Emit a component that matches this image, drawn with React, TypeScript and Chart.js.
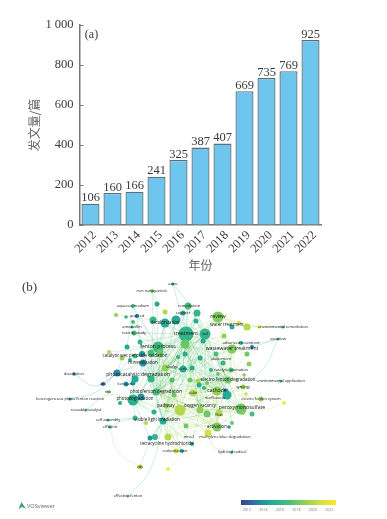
import React, { useEffect, useRef } from "react";
import { Chart, registerables } from "chart.js";

Chart.register(...registerables);

const SERIF = '"Liberation Serif", serif';
const SANS = '"Open Sans", sans-serif';
const CJK = '"Noto Sans CJK SC", sans-serif';

// Panel (a)
const years = ["2012", "2013", "2014", "2015", "2016", "2017", "2018", "2019", "2020", "2021", "2022"];
const papers = [106, 160, 166, 241, 325, 387, 407, 669, 735, 769, 925];

// Panel (b): nodes of the keyword network
const nodeX = [
  173, 152, 133, 157, 188, 165, 116, 126, 137, 183,
  197, 153, 176, 165, 132, 133, 134, 186, 140, 127,
  185, 158, 151, 109, 135, 122, 142, 160, 185, 143,
  130, 117, 135, 151, 165, 183, 74, 103, 126, 108,
  133, 156, 120, 133, 141, 70, 86, 108, 110, 135,
  154, 163, 146, 155, 150, 168, 192, 176, 182, 168,
  140, 128, 180, 166, 186, 193, 218, 232, 239, 247,
  259, 283, 278, 205, 196, 224, 203, 241, 252, 247,
  232, 216, 200, 223, 249, 231, 211, 192, 244, 228,
  198, 199, 218, 207, 281, 243, 217, 226, 227, 246,
  204, 261, 284, 241, 252, 243, 207, 219, 200, 232,
  217, 229, 208, 232, 174, 172, 190, 178,
];
const nodeY = [
  284, 291, 306, 304, 306, 312, 315, 317, 316, 313,
  313, 320, 320, 323, 327, 322, 333, 334, 342, 347,
  344, 347, 353, 352, 356, 358, 354, 353, 354, 363,
  360, 373, 379, 379, 368, 369, 374, 384, 384, 392,
  383, 392, 403, 400, 397, 399, 410, 420, 427, 418,
  412, 421, 423, 437, 438, 437, 444, 451, 451, 469,
  467, 496, 410, 406, 426, 393, 317, 327, 323, 327,
  327, 327, 339, 334, 321, 336, 341, 343, 347, 354,
  349, 354, 358, 363, 364, 370, 370, 368, 375, 380,
  381, 385, 374, 383, 381, 387, 391, 391, 395, 394,
  388, 399, 403, 409, 414, 413, 414, 413, 410, 423,
  427, 427, 433, 452, 395, 380, 380, 357,
];
const nodeSize = [
  1.6, 2, 2, 2.5, 3.5, 2.5, 2, 1.8, 2, 2.5,
  3.5, 3.5, 4.5, 4.5, 1.6, 2, 2.5, 7.5, 2.5, 2.5,
  4.5, 5.5, 3.5, 2, 2.5, 2.5, 3, 3.5, 2.5, 3.5,
  2, 3.5, 3.5, 3.5, 3.5, 3.5, 1.8, 2, 2.5, 1.6,
  2.5, 3.5, 2, 5.5, 3.5, 1.6, 1.6, 1.6, 1.8, 2.5,
  2.5, 3.5, 2, 3, 2.5, 3.5, 2, 2.5, 2, 1.8,
  2.5, 1.6, 5.5, 2.5, 2.5, 3.5, 5.5, 2.5, 2, 3.5,
  1.8, 1.6, 1.6, 5.5, 2.5, 2.5, 2.5, 2, 2, 2.5,
  4.5, 2.5, 2.5, 2.5, 2.5, 2.5, 2, 2.5, 1.8, 3.5,
  2.5, 2.5, 2, 2, 1.6, 2.5, 4.5, 2.5, 4.5, 1.8,
  2, 2.5, 1.8, 5.5, 2.5, 2, 3.5, 3.5, 3.5, 2,
  4.5, 1.8, 3.5, 1.6, 2.5, 2.5, 2.5, 2,
];
const nodeYear = [
  2015, 2018, 2016, 2015, 2017, 2020, 2019, 2016, 2013, 2015,
  2016, 2016, 2015, 2015, 2016, 2017, 2017, 2016, 2016, 2015,
  2018, 2016.5, 2017, 2020, 2017, 2019, 2014, 2018, 2015, 2014,
  2015, 2013.8, 2015, 2016, 2019, 2015, 2013, 2013, 2014, 2019,
  2015, 2017, 2015, 2015.5, 2014, 2014, 2017, 2016, 2017, 2016,
  2015.5, 2015, 2020, 2016, 2014, 2020, 2015, 2021, 2015, 2022,
  2020, 2018, 2020, 2019, 2018, 2020, 2018.5, 2015, 2021, 2020,
  2022, 2016, 2016, 2016, 2015, 2019, 2015, 2015, 2013, 2018,
  2018.5, 2017, 2015, 2016, 2019, 2017, 2016, 2015, 2019, 2018,
  2020, 2015, 2018, 2018, 2016, 2019, 2019, 2014, 2015, 2021,
  2016, 2019, 2022, 2018, 2017, 2019, 2018, 2020, 2019, 2018,
  2018.5, 2014, 2021, 2017, 2018, 2017, 2018, 2016,
];

// Links of the network, hub by hub (indices into the node lists)
const linkHubs = [17, 21, 73, 80, 96, 103, 110, 62, 43, 51, 31, 66, 33, 41, 89, 108, 20, 34, 63, 98];
const linkTargets = [
  [4, 5, 9, 10, 11, 12, 13, 16, 18, 20, 21, 22, 27, 28, 29, 32, 33, 34, 35, 41, 43, 50, 51, 62, 63, 65, 66, 73, 80, 82, 87, 96, 103, 106, 110, 115, 116],
  [2, 3, 8, 11, 13, 15, 16, 18, 19, 22, 24, 26, 27, 29, 33, 34, 41, 43, 44, 51, 62, 63, 73, 80, 96, 103, 110, 114],
  [4, 10, 12, 20, 28, 33, 34, 35, 41, 51, 62, 66, 74, 76, 80, 82, 87, 89, 96, 100, 103, 106, 110],
  [66, 69, 75, 77, 79, 81, 83, 85, 89, 96, 103, 110, 62, 65],
  [34, 41, 51, 62, 65, 85, 89, 95, 90, 100, 101, 103, 108, 110, 112, 114],
  [41, 51, 55, 62, 63, 65, 89, 95, 99, 101, 104, 105, 107, 108, 110, 112, 116],
  [41, 43, 51, 55, 57, 62, 63, 64, 65, 106, 107, 108, 112, 59],
  [33, 41, 43, 50, 51, 55, 57, 63, 64, 65, 114, 115, 116],
  [29, 32, 33, 40, 41, 44, 49, 50, 51, 55, 54],
  [29, 33, 41, 50, 53, 54, 55, 56, 58, 63],
  [25, 30, 32, 37, 38, 29, 40],
  [67, 68, 69, 70, 75],
  [11, 12, 13, 18, 19, 20, 22, 27, 28, 35, 66, 73, 80, 96, 110, 55],
  [4, 10, 12, 13, 18, 20, 22, 27, 28, 35, 66, 74, 75, 80, 81, 82, 85, 87, 89, 100, 106, 108, 110, 112],
  [10, 20, 28, 35, 65, 66, 74, 76, 79, 82, 84, 87, 91, 92, 93, 100, 108, 115, 116],
  [17, 20, 28, 35, 41, 51, 55, 63, 64, 76, 82, 87, 90, 93, 100, 105, 109, 112, 57, 56],
  [4, 10, 13, 27, 34, 35, 66, 74, 75, 76, 81, 83, 86, 87],
  [12, 13, 27, 28, 33, 35, 44, 62, 63, 66, 82, 87, 115, 117, 116],
  [33, 35, 55, 56, 58, 64, 65, 87, 90, 112, 114, 115, 57],
  [20, 28, 76, 81, 82, 83, 85, 86, 87, 90, 92, 93, 95, 100, 103, 106, 109],
];
const extraFrom = [1, 1, 0, 0, 2, 2, 69, 72, 72, 94, 47, 71, 68, 8, 6, 23];
const extraTo = [11, 3, 10, 17, 8, 19, 71, 78, 80, 89, 49, 70, 70, 29, 11, 21];

// Long curved links: start node, end node, and a point the curve passes through
const curveFrom = [36, 45, 60, 61, 113, 102, 46, 60, 48, 72];
const curveTo = [31, 31, 48, 51, 110, 103, 43, 51, 49, 98];
const curveViaX = [96, 96, 118, 150, 212, 264, 108, 150, 120, 262];
const curveViaY = [386, 392, 452, 470, 445, 410, 395, 442, 422, 370];

// Keyword labels
const smallLabels = [
  "azine", "iron nanoparticle", "aqueous medium", "remediation", "acid red", "support", "amoxicillin",
  "toxicity study", "dissolution", "atb", "kerosene", "rhb", "heterogeneous photo fenton reaction",
  "reusable catalyst", "self assembly", "efficient", "mno2", "environmental remediation", "overview",
  "advanced treatment", "abatement", "catalytic ozonation", "environmental application", "synergy",
  "norfloxacin", "electro fenton system", "flow", "hydroxyl radical", "effective fenton", "cds",
  "carbonization", "soil", "sludge", "ceria", "solar", "methylene blue degradation",
];
const smallLabelX = [
  173, 152, 133, 189, 137, 183, 132, 134, 74, 103, 126, 108, 70, 86, 108, 110, 189, 283, 278,
  241, 221, 231, 281, 243, 215, 261, 219, 232, 128, 140, 175, 205, 172, 183, 193, 225,
];
const smallLabelY = [
  284, 291, 306, 306, 316, 313, 327, 333, 374, 384, 384, 392, 399, 410, 420, 427, 437, 327, 339,
  343, 359, 370, 381, 387, 398, 399, 415, 452, 496, 467, 451, 334, 367, 369, 393, 437,
];
const mediumLabels = [
  "catalytic wet peroxide oxidation", "mineralization", "decolorization", "water treatment",
  "electro fenton degradation", "tetracycline hydrochloride", "visible light irradiation",
  "photodegradation", "pathway", "oxygen vacancy", "activation", "photofenton degradation",
];
const mediumLabelX = [135, 143, 165, 227, 228, 167, 157, 135, 166, 200, 217, 156];
const mediumLabelY = [356, 363, 323, 325, 380, 444, 420, 399, 406, 406, 427, 392];
const largeLabels = [
  "treatment", "fenton process", "photocatalytic degradation", "review", "wastewater treatment",
  "cathode", "peroxymonosulfate",
];
const largeLabelX = [186, 158, 138, 218, 232, 217, 242];
const largeLabelY = [334, 347, 375, 317, 349, 391, 408];

// Colour legend
const legendYears = [2012, 2014, 2016, 2018, 2020, 2022];
const legendStops = [
  [2011.3, 59, 63, 140],
  [2013, 44, 120, 170],
  [2015, 36, 170, 150],
  [2017, 70, 190, 120],
  [2019, 145, 208, 85],
  [2021, 210, 225, 70],
  [2022.8, 253, 231, 37],
];

function yearRgb(year: number): number[] {
  for (let i = 1; i < legendStops.length; i++) {
    const a = legendStops[i - 1];
    const b = legendStops[i];
    if (year <= b[0]) {
      const t = Math.max(0, (year - a[0]) / (b[0] - a[0]));
      return [1, 2, 3].map((k) => Math.round(a[k] + (b[k] - a[k]) * t));
    }
  }
  return legendStops[legendStops.length - 1].slice(1);
}
const yearColor = (year: number, alpha = 1) => `rgba(${yearRgb(year).join(",")},${alpha})`;

const valueLabels = {
  id: "valueLabels",
  afterDatasetsDraw(chart: any) {
    const { ctx } = chart;
    const meta = chart.getDatasetMeta(0);
    ctx.save();
    ctx.fillStyle = "#3a3a3a";
    ctx.font = `12.5px ${SERIF}`;
    ctx.textAlign = "center";
    ctx.textBaseline = "alphabetic";
    meta.data.forEach((bar: any, i: number) => ctx.fillText(String(papers[i]), bar.x, bar.y - 2.5));
    ctx.font = `12px ${SERIF}`;
    ctx.fillText("(a)", chart.chartArea.left + 12, chart.chartArea.top + 13);
    ctx.restore();
  },
};

const networkText = {
  id: "networkText",
  afterDatasetsDraw(chart: any) {
    const { ctx, scales } = chart;
    const put = (texts: string[], xs: number[], ys: number[], size: number) => {
      ctx.font = `${size}px ${SANS}`;
      texts.forEach((t, i) => ctx.fillText(t, scales.x.getPixelForValue(xs[i]), scales.y.getPixelForValue(ys[i])));
    };
    ctx.save();
    ctx.fillStyle = "#111";
    ctx.textAlign = "center";
    ctx.textBaseline = "middle";
    put(smallLabels, smallLabelX, smallLabelY, 3.9);
    put(mediumLabels, mediumLabelX, mediumLabelY, 4.4);
    put(largeLabels, largeLabelX, largeLabelY, 5.1);

    // "(b)"
    ctx.fillStyle = "#3a3a3a";
    ctx.font = `13px ${SERIF}`;
    ctx.textAlign = "left";
    ctx.fillText("(b)", scales.x.getPixelForValue(22), scales.y.getPixelForValue(288));

    // VOSviewer mark
    const px = (v: number) => scales.x.getPixelForValue(v);
    const py = (v: number) => scales.y.getPixelForValue(v);
    ctx.fillStyle = "#3f9f8f";
    ctx.beginPath();
    ctx.moveTo(px(21.5), py(502));
    ctx.lineTo(px(18.5), py(509));
    ctx.lineTo(px(22), py(507));
    ctx.lineTo(px(26), py(509));
    ctx.closePath();
    ctx.fill();
    ctx.fillStyle = "#666";
    ctx.font = `5.6px ${SANS}`;
    ctx.fillText("VOSviewer", px(27), py(506));

    // Colour legend
    const x0 = px(241);
    const x1 = px(336);
    const grad = ctx.createLinearGradient(x0, 0, x1, 0);
    legendStops.forEach((s) => grad.addColorStop((s[0] - 2011.3) / (2022.8 - 2011.3), yearColor(s[0])));
    ctx.fillStyle = grad;
    ctx.fillRect(x0, py(500), x1 - x0, 5);
    ctx.fillStyle = "#777";
    ctx.font = `3.6px ${SANS}`;
    ctx.textAlign = "center";
    legendYears.forEach((y) => {
      const x = x0 + ((y - 2011.3) / (2022.8 - 2011.3)) * (x1 - x0);
      ctx.fillText(String(y), x, py(509.5));
    });
    ctx.restore();
  },
};

function networkDatasets(): any[] {
  const sets: any[] = [];
  const addLine = (data: { x: number; y: number }[], year: number, tension = 0) =>
    sets.push({
      type: "line",
      data,
      borderColor: yearColor(year, 0.32),
      borderWidth: 0.7,
      pointRadius: 0,
      tension,
      order: 2,
    });
  const pt = (i: number) => ({ x: nodeX[i], y: nodeY[i] });
  linkHubs.forEach((hub, h) =>
    linkTargets[h].forEach((t) => addLine([pt(hub), pt(t)], (nodeYear[hub] + nodeYear[t]) / 2 + 0.8))
  );
  extraFrom.forEach((f, i) => addLine([pt(f), pt(extraTo[i])], (nodeYear[f] + nodeYear[extraTo[i]]) / 2));
  curveFrom.forEach((f, i) =>
    addLine([pt(f), { x: curveViaX[i], y: curveViaY[i] }, pt(curveTo[i])], (nodeYear[f] + nodeYear[curveTo[i]]) / 2, 0.45)
  );
  sets.push({
    type: "bubble",
    data: nodeX.map((x, i) => ({ x, y: nodeY[i], r: nodeSize[i] })),
    backgroundColor: nodeYear.map((y) => yearColor(y)),
    borderWidth: 0,
    order: 1,
  });
  return sets;
}

export default function App() {
  const barRef = useRef<HTMLCanvasElement>(null);
  const netRef = useRef<HTMLCanvasElement>(null);

  useEffect(() => {
    const bar = new Chart(barRef.current!, {
      type: "bar",
      data: {
        labels: years,
        datasets: [
          {
            data: papers,
            backgroundColor: "#6ec6ee",
            borderColor: "#5d6f7a",
            borderWidth: 1.3,
            barPercentage: 0.82,
            categoryPercentage: 1,
          },
        ],
      },
      options: {
        responsive: false,
        animation: false,
        devicePixelRatio: 1,
        layout: { autoPadding: false, padding: { top: 25, right: 65.5, left: 27, bottom: 0 } },
        plugins: { legend: { display: false }, tooltip: { enabled: false } },
        scales: {
          x: {
            afterFit: (s: any) => {
              s.height = 48;
            },
            grid: { display: false, drawTicks: false },
            border: { color: "#777", width: 1.5 },
            ticks: {
              autoSkip: false,
              minRotation: 45,
              maxRotation: 45,
              padding: 3,
              labelOffset: 4,
              color: "#3a3a3a",
              font: { family: SERIF, size: 12.5 },
            },
            title: {
              display: true,
              text: "年份",
              color: "#666",
              padding: 0,
              font: { family: CJK, size: 12 },
            },
          },
          y: {
            min: 0,
            max: 1000,
            afterFit: (s: any) => {
              s.width = 52.5;
            },
            grid: { drawOnChartArea: false, tickLength: -4, color: "#777", lineWidth: 1 },
            border: { color: "#777", width: 1.5 },
            ticks: {
              stepSize: 200,
              padding: 10,
              color: "#3a3a3a",
              font: { family: SERIF, size: 12.5 },
              callback: (v: any) => (v === 1000 ? "1 000" : String(v)),
            },
            title: {
              display: true,
              text: "发文量/篇",
              color: "#666",
              padding: 0,
              font: { family: CJK, size: 12 },
            },
          },
        },
      },
      plugins: [valueLabels],
    } as any);

    const net = new Chart(netRef.current!, {
      data: { datasets: networkDatasets() },
      options: {
        responsive: false,
        animation: false,
        devicePixelRatio: 1,
        layout: { autoPadding: false, padding: 0 },
        plugins: { legend: { display: false }, tooltip: { enabled: false } },
        scales: {
          x: { type: "linear", display: false, min: 0, max: 387 },
          y: { type: "linear", display: false, min: 270, max: 519, reverse: true },
        },
      },
      plugins: [networkText],
    } as any);

    return () => {
      bar.destroy();
      net.destroy();
    };
  }, []);

  return (
    <div style={{ position: "fixed", left: 0, top: 0, width: 387, height: 519, background: "#fff", overflow: "hidden" }}>
      <canvas
        ref={barRef}
        width={387}
        height={273}
        style={{ position: "absolute", left: 0, top: 0, width: 387, height: 273, filter: "blur(0.35px)" }}
      />
      <canvas
        ref={netRef}
        width={387}
        height={249}
        style={{ position: "absolute", left: 0, top: 270, width: 387, height: 249, filter: "blur(0.4px)" }}
      />
    </div>
  );
}
